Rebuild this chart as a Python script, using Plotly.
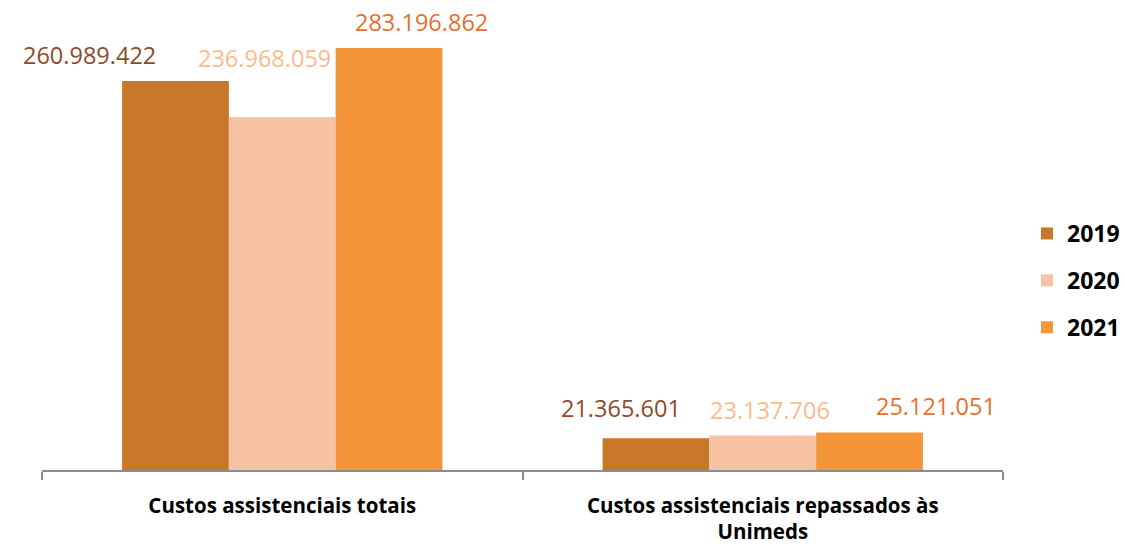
import plotly.graph_objects as go

categories = ["Custos assistenciais totais", "Custos assistenciais repassados às<br>Unimeds"]
years = ["2019", "2020", "2021"]
values_2019 = [260989422, 21365601]
values_2020 = [236968059, 23137706]
values_2021 = [283196862, 25121051]
labels_2019 = ["260.989.422", "21.365.601"]
labels_2020 = ["236.968.059", "23.137.706"]
labels_2021 = ["283.196.862", "25.121.051"]

series = [values_2019, values_2020, values_2021]
series_labels = [labels_2019, labels_2020, labels_2021]
bar_colors = ["#C87628", "#F8C3A5", "#F59539"]
label_colors = ["#8E4A2A", "#F9BB8C", "#E86F2D"]

# label offsets (style): per series, per category (xshift px, yshift px)
bar_px = 107
label_dx = [[-86, -35], [-18, 7], [32, 66]]
label_dy = [[26, 30], [59, 26], [26, 27]]

fig = go.Figure()
for i, (yr, vals) in enumerate(zip(years, series)):
    fig.add_trace(go.Bar(
        x=categories, y=vals, name=yr,
        marker=dict(color=bar_colors[i], line=dict(width=0)),
        legendgroup=yr,
    ))

annotations = []
for i in range(3):
    for j, cat in enumerate(categories):
        annotations.append(dict(
            x=cat, y=series[i][j], xref="x", yref="y",
            text=series_labels[i][j], showarrow=False,
            xshift=(i - 1) * bar_px + label_dx[i][j], yshift=label_dy[i][j],
            font=dict(family="Open Sans", size=23.5, color=label_colors[i]),
            xanchor="center", yanchor="middle",
        ))

fig.update_layout(
    width=1125, height=549,
    paper_bgcolor="white", plot_bgcolor="white",
    margin=dict(l=42, r=122, t=10, b=79, autoexpand=False),
    barmode="group", bargap=1/3, bargroupgap=0,
    annotations=annotations,
    showlegend=True,
    legend=dict(
        xref="container", yref="container",
        x=1027/1125, y=1 - 212/549, xanchor="left", yanchor="top",
        font=dict(family="Open Sans", size=23, color="black", weight="bold"),
        tracegroupgap=14, bgcolor="rgba(0,0,0,0)",
    ),
    xaxis=dict(
        range=[-0.5, 1.5], autorange=False, automargin=False,
        showline=True, linecolor="#8C8C8C", linewidth=2,
        ticks="outside", tickson="boundaries", tickcolor="#8C8C8C",
        ticklen=8, tickwidth=2, showgrid=False,
        tickfont=dict(family="Open Sans", size=20.5, color="black", weight="bold"),
        ticklabelstandoff=16,
    ),
    yaxis=dict(
        visible=False, range=[0, 308.7e6], autorange=False, showgrid=False, zeroline=False,
    ),
)

fig.write_html(
    "out.html",
    config={"displayModeBar": False},
    post_script="document.body.style.margin='0';document.body.style.padding='0';",
)
